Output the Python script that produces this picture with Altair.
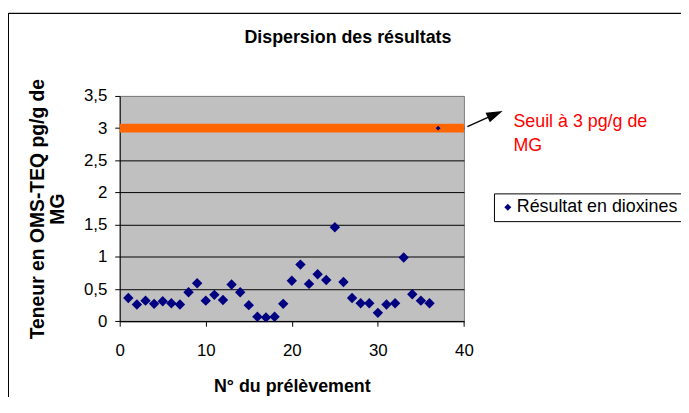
import altair as alt
import pandas as pd

# ---- data ----
sample_no = list(range(1, 37))
dioxin = [0.36, 0.26, 0.32, 0.27, 0.31, 0.28, 0.26, 0.45, 0.59, 0.32,
          0.41, 0.33, 0.57, 0.45, 0.25, 0.07, 0.06, 0.07, 0.27, 0.63,
          0.88, 0.58, 0.73, 0.64, 1.46, 0.61, 0.36, 0.28, 0.28, 0.13,
          0.26, 0.28, 0.99, 0.42, 0.32, 0.28]
series_name = "Résultat en dioxines"

seuil_x = [0, 40]
seuil_y = [3, 3]
seuil_marker_x = [37]
seuil_marker_y = [3]

arrow_x = [40.4]
arrow_y = [3.023]
arrow_x2 = [42.92]
arrow_y2 = [3.174]

note_x = [45.75]
note_y = [3.012]
note_text = ["Seuil à 3 pg/g de\nMG"]

x_ticks = [0, 10, 20, 30, 40]
y_ticks = [0, 0.5, 1, 1.5, 2, 2.5, 3, 3.5]

chart_title = "Dispersion des résultats"
x_title = "N° du prélèvement"
y_title = ["Teneur en OMS-TEQ pg/g de", "MG"]

FONT = "Liberation Sans"
W, H = 347.3, 227.3

# ---- tables ----
pts = pd.DataFrame({"x": sample_no, "y": dioxin, "serie": [series_name] * len(sample_no)})
seuil = pd.DataFrame({"x": seuil_x, "y": seuil_y})
seuil_pt = pd.DataFrame({"x": seuil_marker_x, "y": seuil_marker_y})
arrow = pd.DataFrame({"x": arrow_x, "y": arrow_y, "x2": arrow_x2, "y2": arrow_y2})
head = pd.DataFrame({"x": arrow_x2, "y": arrow_y2})
note = pd.DataFrame({"x": note_x, "y": note_y, "t": note_text})

x_axis = alt.Axis(values=x_ticks, title=x_title, grid=False, domainColor="black",
                  tickColor="black", tickSize=5, labelFont=FONT, labelFontSize=17,
                  labelColor="black", labelBaseline="alphabetic", labelPadding=30,
                  labelFlush=False,
                  titleFont=FONT, titleFontSize=18, titleFontWeight="bold",
                  titleColor="black", titleBaseline="alphabetic", titleY=71)
y_axis = alt.Axis(values=y_ticks, title=y_title, grid=True,
                  gridColor={"condition": {"test": "datum.value === 3.5", "value": "#808080"},
                             "value": "#000000"},
                  gridWidth=1, domainColor="black", tickColor="black", tickSize=5,
                  labelFont=FONT, labelFontSize=17, labelColor="black", labelPadding=8,
                  labelFlush=False,
                  labelExpr="replace(toString(datum.value), '.', ',')",
                  titleFont=FONT, titleFontSize=19.5, titleFontWeight="bold",
                  titleColor="black", titleLineHeight=20, titleBaseline="top",
                  titleAlign="center", titleAngle=270, titleX=-91.7, titleY=H / 2)

xs = alt.Scale(domain=[0, 40], nice=False, zero=False)
ys = alt.Scale(domain=[0, 3.5], nice=False, zero=False)


def X(f="x"):
    return alt.X(f, type="quantitative", scale=xs, axis=x_axis)


def Y(f="y"):
    return alt.Y(f, type="quantitative", scale=ys, axis=y_axis)


line = alt.Chart(seuil).mark_line(color="#FF6600", strokeWidth=9, strokeCap="butt").encode(x=X(), y=Y())
seuil_mark = alt.Chart(seuil_pt).mark_point(shape="diamond", filled=True, size=25,
                                             color="#000080", opacity=1).encode(x=X(), y=Y())
points = alt.Chart(pts).mark_point(shape="diamond", filled=True, size=110, opacity=1).encode(
    x=X(), y=Y(),
    color=alt.Color("serie:N", scale=alt.Scale(range=["#000080"]),
                    legend=alt.Legend(title=None, orient="none", legendX=377.6, legendY=98.3,
                                      strokeColor="black", fillColor="white", padding=5,
                                      symbolType="diamond", symbolSize=50, symbolStrokeWidth=0,
                                      labelFont=FONT, labelFontSize=18, labelColor="black",
                                      labelOffset=0, labelLimit=400, cornerRadius=0)))
arrow_line = alt.Chart(arrow).mark_rule(color="black", strokeWidth=1.3).encode(
    x=X(), y=Y(), x2="x2", y2="y2")
arrow_head = alt.Chart(head).mark_point(shape="M0,-1L-0.35,0.1L0.35,0.1Z", filled=True,
                                        size=900, angle=66, color="black", opacity=1).encode(
    x=X(), y=Y())
note_txt = alt.Chart(note).mark_text(align="left", baseline="alphabetic", lineBreak="\n",
                                     lineHeight=24, font=FONT, fontSize=18,
                                     color="#FF0000").encode(x=X(), y=Y(), text="t:N")

frame_left = alt.Chart(seuil).mark_rule(color="black", strokeWidth=1).encode(
    x=alt.value(-112.2), y=alt.value(-83.3), y2=alt.value(H + 80))
frame_top = alt.Chart(seuil).mark_rule(color="black", strokeWidth=1).encode(
    x=alt.value(-112.2), x2=alt.value(W + 219), y=alt.value(-83.3))

chart = alt.layer(line, seuil_mark, points, arrow_line, arrow_head, note_txt,
                  frame_left, frame_top).properties(
    width=W, height=H,
    background="white",
    title=alt.TitleParams(chart_title, font=FONT, fontSize=18, fontWeight="bold",
                          color="black", anchor="middle", dx=56.6, baseline="alphabetic",
                          offset=0, dy=48),
    autosize=alt.AutoSizeParams(type="none"),
    padding={"left": 112.7, "top": 87, "right": 219, "bottom": 75},
).configure_view(fill="#C0C0C0", stroke="#808080", strokeWidth=1)

chart.save("out.html", embed_options={"renderer": "svg", "actions": False})
